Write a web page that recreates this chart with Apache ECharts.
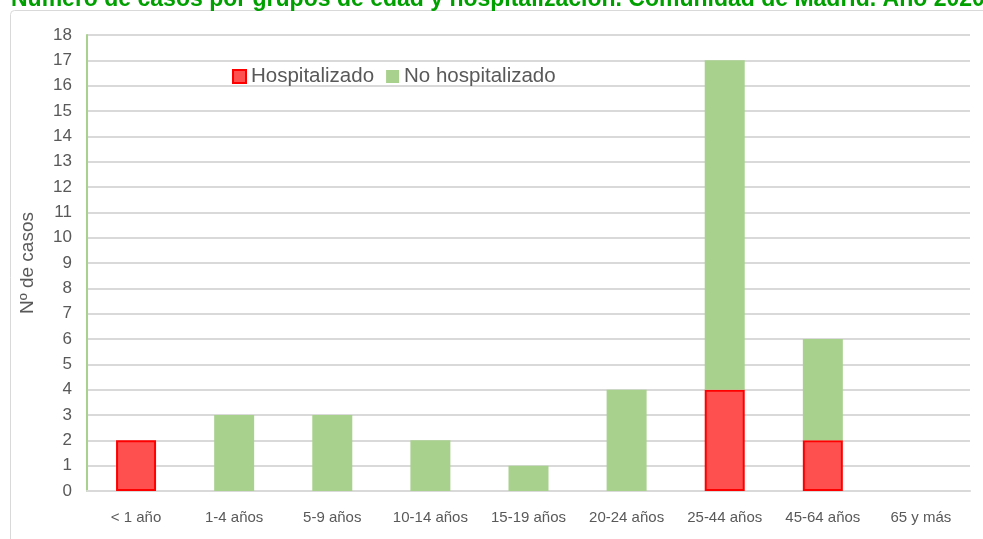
<!DOCTYPE html>
<html><head><meta charset="utf-8">
<script src="https://cdn.jsdelivr.net/npm/echarts@6/dist/echarts.min.js"></script>
<style>html,body{margin:0;padding:0;background:#fff}#c{width:983px;height:539px}</style>
</head><body><div id="c"></div>
<script>
const categories = ['< 1 año','1-4 años','5-9 años','10-14 años','15-19 años','20-24 años','25-44 años','45-64 años','65 y más'];
const hospitalizado = [2,0,0,0,0,0,4,2,0];
const noHospitalizado = [0,3,3,2,1,4,13,4,0];
const titleText = 'Número de casos por grupos de edad y hospitalización. Comunidad de Madrid. Año 2020';
const yAxisName = 'Nº de casos';

const font = 'Liberation Sans';
const nz = arr => arr.map(v => v === 0 ? '-' : v);
const chart = echarts.init(document.getElementById('c'));
chart.setOption({
  animation: false,
  textStyle: {fontFamily: font},
  title: {text: titleText, left: 6, top: -17, textStyle: {color: '#00A000', fontSize: 23, fontWeight: 'bold', fontFamily: font}},
  graphic: [{type: 'rect', shape: {x: 10.5, y: 10.5, width: 1000, height: 600, r: 4}, style: {fill: 'none', stroke: '#d9d9d9', lineWidth: 1}, silent: true, z: -1}],
  legend: {left: 227, top: 61, icon: 'rect', itemWidth: 13, itemHeight: 13, itemGap: 12, textStyle: {fontSize: 20.5, color: '#595959', fontFamily: font},
    data: [{name: 'Hospitalizado', itemStyle: {color: '#FF5050', borderColor: '#FF0000', borderWidth: 2}}, {name: 'No hospitalizado', itemStyle: {color: '#A9D18E'}}]},
  grid: {left: 87, right: 13, top: 35, bottom: 48},
  xAxis: {type: 'category', data: categories, axisTick: {show: false},
    axisLine: {lineStyle: {color: '#d9d9d9', width: 2}},
    axisLabel: {interval: 0, color: '#595959', fontSize: 15, margin: 19, fontFamily: font}},
  yAxis: {type: 'value', min: 0, max: 18, interval: 1,
    name: yAxisName, nameLocation: 'middle', nameGap: 50, nameTextStyle: {color: '#595959', fontSize: 19, fontFamily: font},
    axisLine: {show: true, lineStyle: {color: '#A9D18E', width: 2}},
    splitLine: {lineStyle: {color: '#d9d9d9', width: 2}},
    axisLabel: {color: '#595959', fontSize: 17, margin: 15, fontFamily: font}},
  series: [
    {name: 'Hospitalizado', type: 'bar', stack: 's', data: nz(hospitalizado), barWidth: 40,
      itemStyle: {color: '#FF5050', borderColor: '#FF0000', borderWidth: 2}},
    {name: 'No hospitalizado', type: 'bar', stack: 's', data: nz(noHospitalizado), barWidth: 40,
      itemStyle: {color: '#A9D18E'}}
  ]
});
</script></body></html>
